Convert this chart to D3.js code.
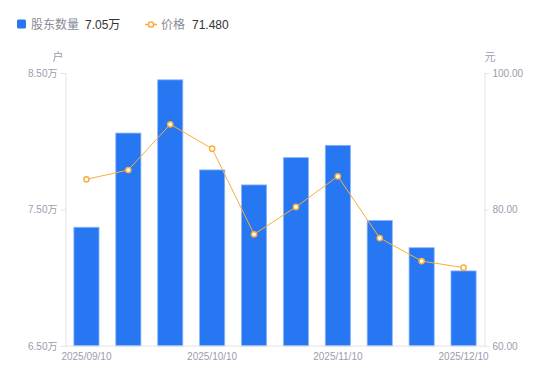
<!DOCTYPE html>
<html><head><meta charset="utf-8">
<script src="https://cdn.jsdelivr.net/npm/d3@7"></script>
<style>
html,body{margin:0;padding:0;background:#fff;}
svg text{font-family:"Liberation Sans","Noto Sans CJK SC",Arial,sans-serif;}
</style>
</head><body>
<svg id="chart" width="550" height="381"></svg>
<script>
const dates = ["2025/09/10","2025/09/20","2025/09/30","2025/10/10","2025/10/20","2025/10/31","2025/11/10","2025/11/20","2025/11/30","2025/12/10"];
const holders = [7.37, 8.06, 8.45, 7.79, 7.68, 7.88, 7.97, 7.42, 7.22, 7.05];
const prices = [84.42, 85.79, 92.48, 88.91, 76.37, 80.37, 84.86, 75.82, 72.45, 71.48];
const leftTicks = [6.5, 7.5, 8.5];
const rightTicks = [60, 80, 100];
const xLabelIdx = [0, 3, 6, 9];

const svg = d3.select("#chart");
const L = 65.5, R = 484.5, T = 73, B = 346;
const blue = "#2777f2", orange = "#f9ae3b", axisCol = "#e3e3e8", txtCol = "#9c9cae";

const x = d3.scaleBand().domain(dates).range([L, R]).paddingInner(0.4).paddingOuter(0.2);
const yL = d3.scaleLinear().domain([6.5, 8.5]).range([B, T]);
const yR = d3.scaleLinear().domain([60, 100]).range([B, T]);

// bars
svg.append("g").selectAll("rect").data(holders).join("rect")
  .attr("x", (d,i) => x(dates[i]))
  .attr("y", d => yL(d))
  .attr("width", x.bandwidth())
  .attr("height", d => B - yL(d))
  .attr("fill", blue)
  .attr("stroke", "#8ab6fa").attr("stroke-width", 0.8);

// axes
const leftAxis = d3.axisLeft(yL).tickValues(leftTicks).tickSize(5).tickPadding(3)
  .tickFormat(d => d3.format(".2f")(d) + "万");
const gl = svg.append("g").attr("transform", `translate(${L},0)`).call(leftAxis);
const rightAxis = d3.axisRight(yR).tickValues(rightTicks).tickSize(4).tickPadding(4)
  .tickFormat(d3.format(".2f"));
const gr = svg.append("g").attr("transform", `translate(${R},0)`).call(rightAxis);
const bottomAxis = d3.axisBottom(x).tickValues(xLabelIdx.map(i => dates[i])).tickSize(0).tickPadding(7);
const gb = svg.append("g").attr("transform", `translate(0,${B})`).call(bottomAxis);
[gl, gr, gb].forEach(g => {
  g.select(".domain").attr("stroke", axisCol).attr("stroke-width", 1);
  g.selectAll(".tick line").attr("stroke", axisCol);
  g.selectAll(".tick text").attr("fill", txtCol).attr("font-size", 10)
   .style("font-family", '"Liberation Sans","Noto Sans CJK SC",Arial,sans-serif');
});
gb.select(".domain").attr("d", `M${L},0H${R}`);

// axis unit labels
svg.append("text").attr("x", 58).attr("y", 61).attr("text-anchor", "middle")
  .attr("font-size", 11).attr("fill", txtCol).text("户");
svg.append("text").attr("x", 490).attr("y", 61).attr("text-anchor", "middle")
  .attr("font-size", 11).attr("fill", txtCol).text("元");

// line
const line = d3.line().x((d,i) => x(dates[i]) + x.bandwidth()/2).y(d => yR(d));
svg.append("path").datum(prices).attr("d", line)
  .attr("fill", "none").attr("stroke", orange).attr("stroke-width", 1);
svg.append("g").selectAll("circle").data(prices).join("circle")
  .attr("cx", (d,i) => x(dates[i]) + x.bandwidth()/2)
  .attr("cy", d => yR(d)).attr("r", 2.6)
  .attr("fill", "#fff").attr("stroke", orange).attr("stroke-width", 1.5);

// legend
const lg = svg.append("g");
lg.append("rect").attr("x", 17).attr("y", 19.5).attr("width", 9).attr("height", 9).attr("rx", 1.5).attr("fill", blue);
lg.append("text").attr("x", 31).attr("y", 28.5).attr("font-size", 12).attr("fill", "#8a8a98").text("股东数量");
lg.append("text").attr("x", 85).attr("y", 28.5).attr("font-size", 12).attr("fill", "#333").text(d3.format(".2f")(holders[holders.length-1]) + "万");
lg.append("line").attr("x1", 145).attr("x2", 157).attr("y1", 24.5).attr("y2", 24.5).attr("stroke", orange).attr("stroke-width", 1.5);
lg.append("circle").attr("cx", 151).attr("cy", 24.5).attr("r", 2.6).attr("fill", "#fff").attr("stroke", orange).attr("stroke-width", 1.5);
lg.append("text").attr("x", 161).attr("y", 28.5).attr("font-size", 12).attr("fill", "#8a8a98").text("价格");
lg.append("text").attr("x", 192).attr("y", 28.5).attr("font-size", 12).attr("fill", "#333").text(d3.format(".3f")(prices[prices.length-1]));
</script>
</body></html>
